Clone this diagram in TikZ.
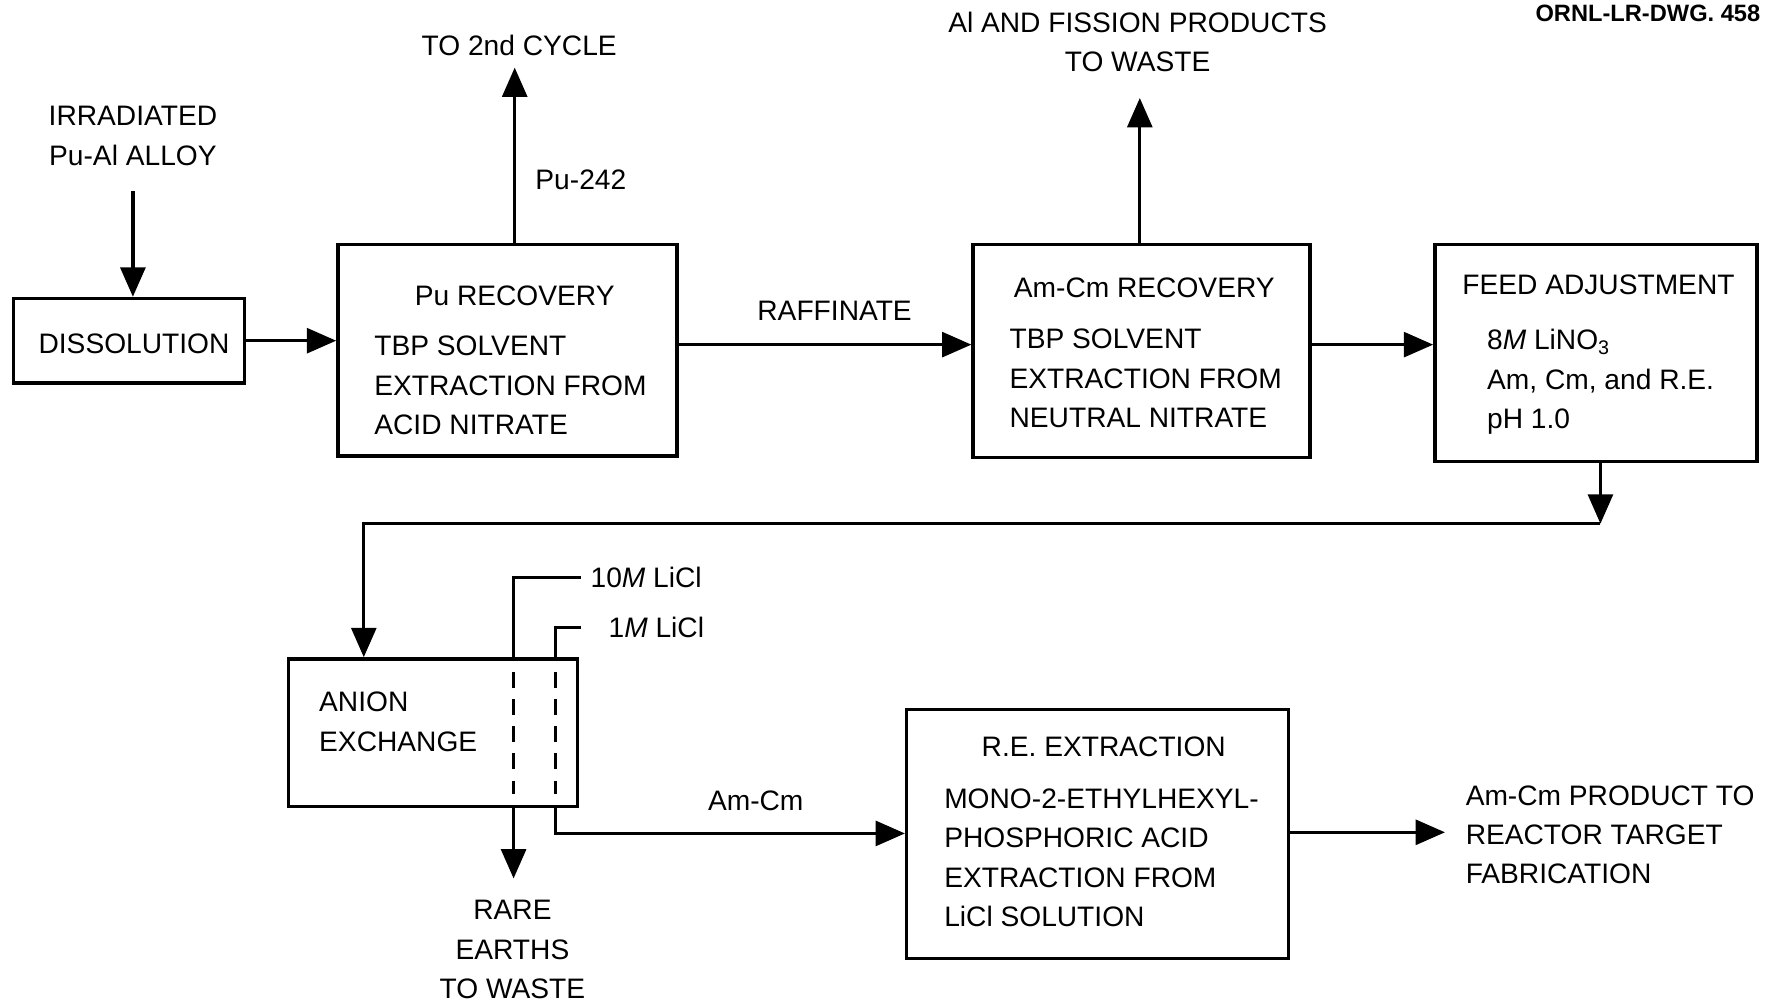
\documentclass[tikz,border=0pt]{standalone}
\usepackage{fontspec}
\setmainfont{Liberation Sans}
\usetikzlibrary{arrows.meta,fit}
\begin{document}
\begin{tikzpicture}[x=0.5pt,y=-0.5pt,
  box/.style={draw, line width=1.5pt, inner sep=0pt},
  txt/.style={font=\fontsize{12.5}{17.5}\selectfont, inner sep=0pt},
  ln/.style={line width=1.5pt},
  arr/.style={line width=1.5pt, -{Triangle[length=13pt,width=11pt]}},
  dsh/.style={line width=1.5pt, dash pattern=on 7pt off 5pt}]
\useasboundingbox (0,0) rectangle (1568,892);

% boxes
\node[box, fit={(12,265)(217,340)}] (diss) {};
\node[box, fit={(300,217)(601,405)}] (pu) {};
\node[box, fit={(864,217)(1163,406)}] (amcm) {};
\node[box, fit={(1274,217)(1560,410)}] (feed) {};
\node[box, fit={(256,585)(513,716)}] (anion) {};
\node[box, fit={(805,630)(1144,851)}] (re) {};

% texts
\node[txt, align=center, anchor=north] (irr) at (118,94) {IRRADIATED\\Pu-Al ALLOY};
\node[txt] (dissT) at (119,305) {DISSOLUTION};
\node[txt, anchor=north] (puT) at (457,253) {Pu RECOVERY};
\node[txt, align=left, anchor=north west] (puB) at (332,298) {TBP SOLVENT\\EXTRACTION FROM\\ACID NITRATE};
\node[txt, anchor=north] (cyc) at (461,31) {TO 2nd CYCLE};
\node[txt, anchor=west] (pu242) at (475,160) {Pu-242};
\node[txt, anchor=north] (raff) at (741,267) {RAFFINATE};
\node[txt, anchor=north] (amT) at (1016,246) {Am-Cm RECOVERY};
\node[txt, align=left, anchor=north west] (amB) at (896,292) {TBP SOLVENT\\EXTRACTION FROM\\NEUTRAL NITRATE};
\node[txt, align=center, anchor=north] (fis) at (1010,10) {Al AND FISSION PRODUCTS\\TO WASTE};
\node[txt, font=\fontsize{10.5}{13}\selectfont\bfseries, anchor=west] (ornl) at (1363,12) {ORNL-LR-DWG. 458};
\node[txt, anchor=north west] (feedT) at (1298,244) {FEED ADJUSTMENT};
\node[txt, align=left, anchor=north west] (feedB) at (1320,292) {8\textit{M} LiNO\textsubscript{3}\\Am, Cm, and R.E.\\pH 1.0};
\node[txt, align=left, anchor=north west] (anT) at (283,614) {ANION\\EXCHANGE};
\node[txt, anchor=west] (l10) at (524,513) {10\textit{M} LiCl};
\node[txt, anchor=west] (l1) at (540,557) {1\textit{M} LiCl};
\node[txt, align=center, anchor=north] (rare) at (455,799) {RARE\\EARTHS\\TO WASTE};
\node[txt] (amcmL) at (671,711) {Am-Cm};
\node[txt, anchor=north] (reT) at (980,654) {R.E. EXTRACTION};
\node[txt, align=left, anchor=north west] (reB) at (838,700) {MONO-2-ETHYLHEXYL-\\PHOSPHORIC ACID\\EXTRACTION FROM\\LiCl SOLUTION};
\node[txt, align=left, anchor=north west] (prod) at (1301,697) {Am-Cm PRODUCT TO\\REACTOR TARGET\\FABRICATION};

% helper coordinates
\coordinate (inTop) at (118,170);
\coordinate (c2tip) at (457,60);
\coordinate (fistip) at (1012,87);
\coordinate (row1) at (0,306);
\coordinate (joint) at (1421,465);
\coordinate (turn) at (323,465);
\coordinate (reTip) at (1283,739);
\coordinate (waste) at (456,780);
\coordinate (amRow) at (0,740);

% connectors
\draw[arr] (inTop) -- (inTop |- diss.north);
\draw[arr] (diss.east) -- (diss.east -| pu.west);
\draw[arr] (pu.north -| c2tip) -- (c2tip);
\draw[arr] (pu.east |- row1) -- (amcm.west |- row1);
\draw[arr] (amcm.north -| fistip) -- (fistip);
\draw[arr] (amcm.east |- row1) -- (feed.west |- row1);
\draw[arr] (feed.south -| joint) -- (joint);
\draw[arr] (joint) -- (turn) -- (turn |- anion.north);
\draw[ln] (anion.north -| 456,0) |- ([xshift=-4pt]l10.west);
\draw[ln] (anion.north -| 493,0) |- ([xshift=-12pt]l1.west);
\draw[dsh] (456,597) -- (456,705);
\draw[dsh] (493,597) -- (493,705);
\draw[arr] (anion.south -| waste) -- (waste);
\draw[arr] (anion.south -| 493,0) |- (re.west |- amRow);
\draw[arr] (re.east |- reTip) -- (reTip);
\end{tikzpicture}
\end{document}
